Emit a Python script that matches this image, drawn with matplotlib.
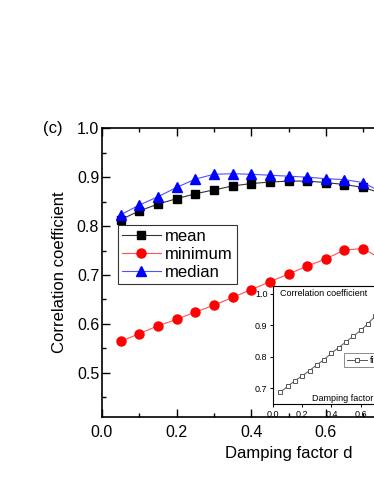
import matplotlib
matplotlib.use("Agg")
import matplotlib.pyplot as plt
from matplotlib.ticker import MultipleLocator

plt.rcParams['font.family'] = ['Liberation Sans', 'DejaVu Sans']

# ---- data ----
d = [0.05, 0.10, 0.15, 0.20, 0.25, 0.30, 0.35, 0.40, 0.45, 0.50,
     0.55, 0.60, 0.65, 0.70, 0.75]
mean_vals = [0.813, 0.831, 0.845, 0.856, 0.866, 0.874, 0.882, 0.887, 0.890,
             0.892, 0.892, 0.889, 0.885, 0.879, 0.867]
min_vals = [0.564, 0.580, 0.596, 0.609, 0.624, 0.638, 0.654, 0.670, 0.686,
            0.702, 0.718, 0.733, 0.751, 0.754, 0.732]
median_vals = [0.823, 0.843, 0.860, 0.879, 0.896, 0.906, 0.907, 0.906, 0.904,
               0.902, 0.900, 0.897, 0.895, 0.889, 0.869]

inset_d = [0.05, 0.10, 0.15, 0.20, 0.25, 0.30, 0.35, 0.40, 0.45, 0.50,
           0.55, 0.60, 0.65, 0.70]
inset_vals = [0.687, 0.706, 0.724, 0.739, 0.756, 0.774, 0.791, 0.811, 0.829,
              0.847, 0.865, 0.883, 0.905, 0.928]

series_labels = ["mean", "minimum", "median"]
inset_label = "fitting"
xlabel = "Damping factor d"
ylabel = "Correlation coefficient"
panel = "(c)"

W, H = 374, 484
fig = plt.figure(figsize=(W / 100, H / 100), dpi=100)

# main axes (extends past the right edge, as in the cropped reference)
ax = fig.add_axes([102 / W, (H - 416.7) / H, 373 / W, 288.4 / H])
ax.plot(d, mean_vals, color='#333333', lw=0.8, marker='s', ms=5.3,
        mfc='black', mec='black', label=series_labels[0])
ax.plot(d, min_vals, color='#ff5050', lw=0.8, marker='o', ms=6.5,
        mfc='#ff0000', mec='#ff0000', label=series_labels[1])
ax.plot(d, median_vals, color='#5050ff', lw=0.8, marker='^', ms=6.5,
        mfc='#0000ff', mec='#0000ff', label=series_labels[2])
ax.set_xlim(0.0, 1.0)
ax.set_ylim(0.41, 1.0)
ax.xaxis.set_major_locator(MultipleLocator(0.2))
ax.xaxis.set_minor_locator(MultipleLocator(0.1))
ax.yaxis.set_major_locator(MultipleLocator(0.1))
ax.yaxis.set_minor_locator(MultipleLocator(0.05))
ax.xaxis.set_major_formatter(matplotlib.ticker.FormatStrFormatter('%.1f'))
ax.yaxis.set_major_formatter(matplotlib.ticker.FormatStrFormatter('%.1f'))
ax.tick_params(which='both', direction='in', top=True, right=True,
               labelsize=11.5, width=1)
ax.tick_params(which='major', length=5.8)
ax.tick_params(which='minor', length=3)
ax.tick_params(axis='x', pad=6)
ax.tick_params(axis='y', pad=2)
for s in ax.spines.values():
    s.set_linewidth(1.2)
ax.set_xlabel(xlabel, fontsize=12, labelpad=4)
ax.set_ylabel(ylabel, fontsize=12, labelpad=7)

leg = ax.legend(loc='upper left', bbox_to_anchor=(0.043, 0.665),
                borderaxespad=0, fontsize=12, handlelength=2.3,
                handletextpad=0.25, labelspacing=0.18, borderpad=0.25,
                fancybox=False, frameon=True)
leg.get_frame().set_edgecolor('black')
leg.get_frame().set_linewidth(0.8)

fig.text(43 / W, 1 - 129 / H, panel, fontsize=12, ha='left', va='center')

# inset
axi = fig.add_axes([273 / W, (H - 404) / H, 146 / W, 118.3 / H])
axi.plot(inset_d, inset_vals, color='#555555', lw=0.7, marker='s', ms=3.2,
         mfc='white', mec='#555555', mew=0.7, label=inset_label)
axi.set_xlim(0.0, 1.0)
axi.set_ylim(0.65, 1.025)
axi.xaxis.set_major_locator(MultipleLocator(0.2))
axi.yaxis.set_major_locator(MultipleLocator(0.1))
axi.xaxis.set_major_formatter(matplotlib.ticker.FormatStrFormatter('%.1f'))
axi.yaxis.set_major_formatter(matplotlib.ticker.FormatStrFormatter('%.1f'))
axi.tick_params(which='both', direction='out', labelsize=6.5, length=2.5,
                width=0.7, pad=1.5)
for s in axi.spines.values():
    s.set_linewidth(0.8)
axi.text(0.045, 0.93, ylabel, transform=axi.transAxes, fontsize=6.5,
         ha='left', va='center')
axi.text(0.268, 0.05, xlabel, transform=axi.transAxes, fontsize=6.5,
         ha='left', va='center')
li = axi.legend(loc='center left', bbox_to_anchor=(0.485, 0.37),
                borderaxespad=0, fontsize=6.5, handlelength=2.3,
                handletextpad=0.3, borderpad=0.3, fancybox=False)
li.get_frame().set_edgecolor('#555555')
li.get_frame().set_linewidth(0.6)

fig.savefig("out.png", dpi=100)
